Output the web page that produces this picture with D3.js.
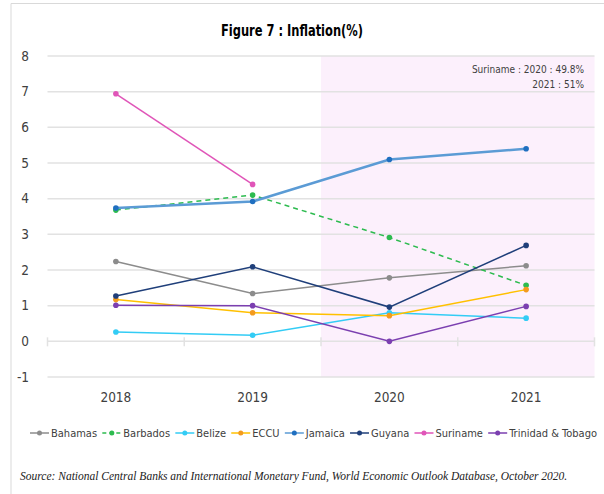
<!DOCTYPE html>
<html>
<head>
<meta charset="utf-8">
<script src="https://cdn.jsdelivr.net/npm/d3@7"></script>
<style>
  body { margin: 0; background: #fff; }
  svg { display: block; }
  .narrow { font-family: 'DejaVu Sans', sans-serif; font-stretch: condensed; }
</style>
</head>
<body>
<div class="chart"></div>
<script>
  const years = ["2018", "2019", "2020", "2021"];
  const yTicks = [-1, 0, 1, 2, 3, 4, 5, 6, 7, 8];

  const bahamas  = [2.24, 1.34, 1.78, 2.12];
  const barbados = [3.68, 4.1, 2.91, 1.57];
  const belize   = [0.26, 0.17, 0.8, 0.65];
  const eccu     = [1.17, 0.8, 0.72, 1.45];
  const jamaica  = [3.74, 3.92, 5.1, 5.4];
  const guyana   = [1.27, 2.09, 0.96, 2.69];
  const suriname = [6.94, 4.4, null, null];
  const trinidad = [1.01, 1.0, 0.0, 0.98];

  const seriesNames = ["Bahamas", "Barbados", "Belize", "ECCU", "Jamaica", "Guyana", "Suriname", "Trinidad & Tobago"];
  const seriesValues = [bahamas, barbados, belize, eccu, jamaica, guyana, suriname, trinidad];
  const lineColors   = ["#8c8c8c", "#2dbb4f", "#33ccf5", "#ffc000", "#5b9bd5", "#1f3f7a", "#e055b8", "#7b3fb0"];
  const dotColors    = ["#8c8c8c", "#2dbb4f", "#33ccf5", "#f39a1e", "#1f6fc0", "#1f3f7a", "#e055b8", "#7b3fb0"];

  const highlightYears = ["2020", "2021"];
  const note = ["Suriname : 2020 : 49.8%", "2021 : 51%"];

  const width = 604;
  const height = 494;
  const plot = { left: 47.5, right: 594.5, top: 56, bottom: 377 };

  const svg = d3.select('.chart')
    .append("svg")
    .attr("width", width)
    .attr("height", height);

  // outer frame (top and left visible)
  svg.append("path")
    .attr("d", "M11,494 V3.5 H604")
    .attr("fill", "none")
    .attr("stroke", "#d9d9d9")
    .attr("stroke-width", 1);

  const x = d3.scaleBand()
    .domain(years)
    .range([plot.left, plot.right]);

  const y = d3.scaleLinear()
    .domain([-1, 8])
    .range([plot.bottom, plot.top]);

  // shaded forecast region
  svg.append("rect")
    .attr("x", x(highlightYears[0]))
    .attr("y", plot.top)
    .attr("width", x.bandwidth() * highlightYears.length)
    .attr("height", plot.bottom - plot.top)
    .attr("fill", "#fcf0fc");

  // gridlines
  svg.selectAll(".grid")
    .data(yTicks)
    .enter()
    .append("line")
    .attr("class", "grid")
    .attr("x1", plot.left)
    .attr("x2", plot.right)
    .attr("y1", d => y(d))
    .attr("y2", d => y(d))
    .attr("stroke", "#e2e2e2")
    .attr("stroke-width", 1.5);

  // category ticks on the zero line
  const bounds = years.map(d => x(d)).concat([plot.right]);
  svg.selectAll(".xtick")
    .data(bounds)
    .enter()
    .append("line")
    .attr("class", "xtick")
    .attr("x1", d => d)
    .attr("x2", d => d)
    .attr("y1", y(0) - 4)
    .attr("y2", y(0) + 5)
    .attr("stroke", "#e2e2e2")
    .attr("stroke-width", 1.5);

  // y labels
  svg.selectAll(".ylabel")
    .data(yTicks)
    .enter()
    .append("text")
    .attr("class", "ylabel narrow")
    .attr("x", 29)
    .attr("y", d => y(d))
    .attr("dy", "0.35em")
    .attr("text-anchor", "end")
    .attr("font-size", "13.5px")
    .attr("fill", "#404040")
    .text(d => d);

  // x labels
  svg.selectAll(".xlabel")
    .data(years)
    .enter()
    .append("text")
    .attr("class", "xlabel narrow")
    .attr("x", d => x(d) + x.bandwidth() / 2)
    .attr("y", 402)
    .attr("text-anchor", "middle")
    .attr("font-size", "13.5px")
    .attr("fill", "#404040")
    .text(d => d);

  // title
  svg.append("text")
    .attr("class", "narrow")
    .attr("x", 292)
    .attr("y", 36)
    .attr("text-anchor", "middle")
    .attr("font-weight", "bold")
    .attr("font-size", "16px")
    .attr("textLength", 142)
    .attr("lengthAdjust", "spacingAndGlyphs")
    .attr("fill", "#000")
    .text("Figure 7 : Inflation(%)");

  // note
  svg.selectAll(".note")
    .data(note)
    .enter()
    .append("text")
    .attr("class", "note narrow")
    .attr("x", 584)
    .attr("y", (d, i) => 73 + i * 15)
    .attr("text-anchor", "end")
    .attr("font-size", "10px")
    .attr("fill", "#404040")
    .text(d => d);

  // lines
  const line = d3.line()
    .defined(d => d != null)
    .x((d, i) => x(years[i]) + x.bandwidth() / 2)
    .y(d => y(d));

  const groups = svg.selectAll(".series")
    .data(seriesValues)
    .enter()
    .append("g")
    .attr("class", "series");

  groups.append("path")
    .attr("d", d => line(d))
    .attr("fill", "none")
    .attr("stroke", (d, i) => lineColors[i])
    .attr("stroke-width", (d, i) => seriesNames[i] == "Jamaica" ? 2.5 : 1.5)
    .attr("stroke-dasharray", (d, i) => seriesNames[i] == "Barbados" ? "5,4" : null);

  groups.each(function(vals, s) {
    d3.select(this).selectAll("circle")
      .data(vals.map((v, i) => ({ v: v, i: i })).filter(d => d.v != null))
      .enter()
      .append("circle")
      .attr("cx", d => x(years[d.i]) + x.bandwidth() / 2)
      .attr("cy", d => y(d.v))
      .attr("r", 2.8)
      .attr("fill", dotColors[s]);
  });

  // legend: spread items between x=30 and x=598
  const legendFont = 11;
  const measure = svg.append("text")
    .attr("class", "narrow")
    .attr("font-size", legendFont + "px");
  const widths = seriesNames.map(name => {
    measure.text(name);
    return measure.node().getComputedTextLength();
  });
  measure.remove();
  const used = d3.sum(widths) + 22 * seriesNames.length;
  const gap = Math.max(2, (568 - used) / (seriesNames.length - 1));
  const legendItems = [];
  let lx = 30;
  seriesNames.forEach((name, i) => {
    legendItems.push({ name: name, i: i, x: lx });
    lx += 22 + widths[i] + gap;
  });

  const legend = svg.selectAll(".legend")
    .data(legendItems)
    .enter()
    .append("g")
    .attr("class", "legend")
    .attr("transform", d => "translate(" + d.x + ",433)");

  legend.append("line")
    .attr("x1", 0)
    .attr("x2", 19)
    .attr("stroke", d => lineColors[d.i])
    .attr("stroke-width", 1.5)
    .attr("stroke-dasharray", d => d.name == "Barbados" ? "4,3" : null);

  legend.append("circle")
    .attr("cx", 9.5)
    .attr("r", 2.5)
    .attr("fill", d => dotColors[d.i]);

  legend.append("text")
    .attr("class", "narrow")
    .attr("x", 21)
    .attr("dy", "0.35em")
    .attr("font-size", legendFont + "px")
    .attr("fill", "#404040")
    .text(d => d.name);

  // source
  svg.append("text")
    .attr("x", 20)
    .attr("y", 480)
    .attr("font-family", "'Liberation Serif', serif")
    .attr("font-style", "italic")
    .attr("font-size", "11.5px")
    .attr("fill", "#222")
    .text("Source: National Central Banks and International Monetary Fund, World Economic Outlook Database, October 2020.");
</script>
</body>
</html>
